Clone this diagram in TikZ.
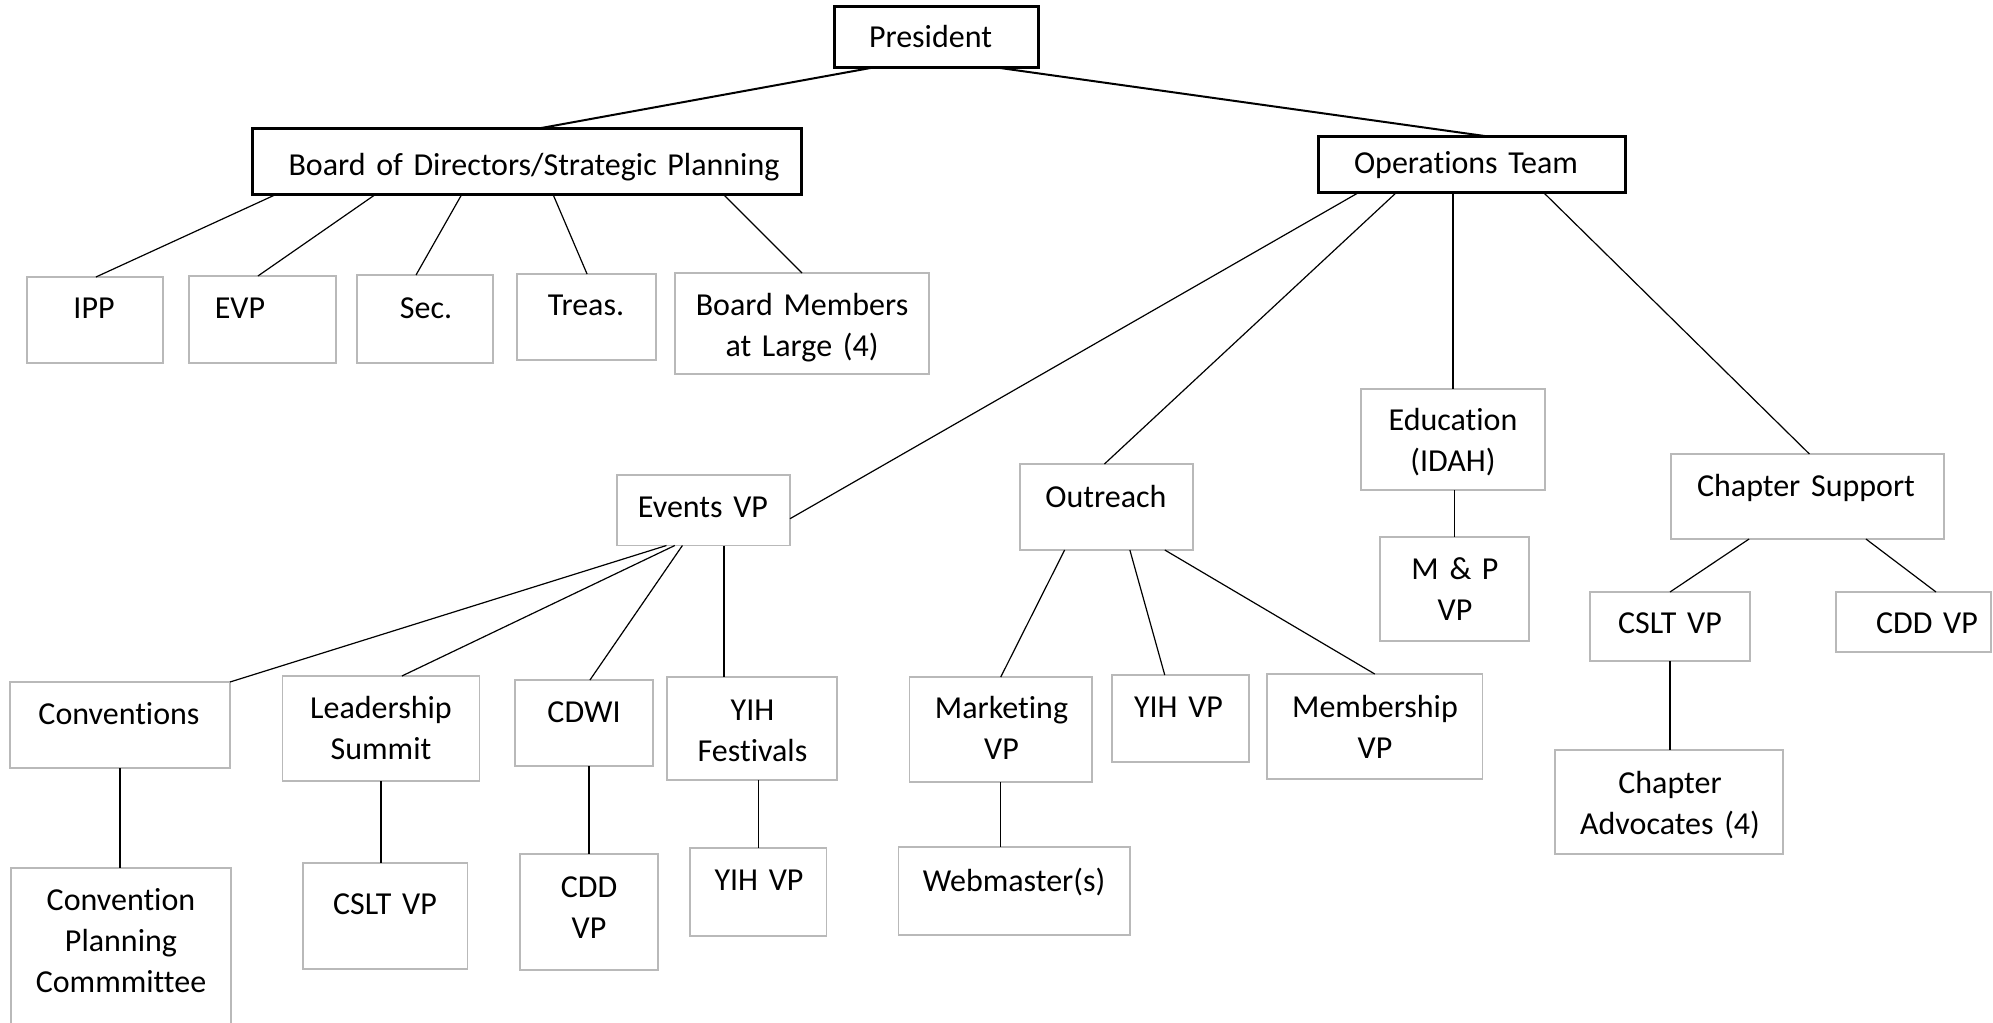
\documentclass[tikz,border=0pt]{standalone}
\usepackage{fontspec}
\setmainfont{Carlito}[Ligatures={NoCommon}]
\usetikzlibrary{calc}
\begin{document}
\begin{tikzpicture}[x=1pt,y=-1pt,
  gbox/.style={draw=gray!55, line width=1.6pt, rectangle, inner sep=0pt, outer sep=0pt},
  kbox/.style={draw=black, line width=3pt, rectangle, inner sep=0pt, outer sep=0pt},
  lbl/.style={text width=#1, align=center, anchor=base, inner sep=0pt, font=\fontsize{32}{41}\selectfont},
  link/.style={draw=black, line width=1.2pt},
  mainlink/.style={draw=black, line width=2pt}]
\clip (0,0) rectangle (1993,1022);
\fill[white] (0,0) rectangle (1993,1022);
% ---- boxes ----
\node[kbox, minimum width=204pt, minimum height=61pt] (pres) at (936,37.5) {};
\node[kbox, minimum width=549pt, minimum height=65pt] (board) at (526.5,161.5) {};
\node[kbox, minimum width=306.5pt, minimum height=56pt] (ops) at (1471.75,164) {};
\node[gbox, minimum width=136pt, minimum height=86pt] (ipp) at (95,320) {};
\node[gbox, minimum width=147pt, minimum height=87pt] (evp) at (262.5,319.5) {};
\node[gbox, minimum width=136pt, minimum height=88pt] (sec) at (425,319) {};
\node[gbox, minimum width=139pt, minimum height=86pt] (treas) at (586.5,317) {};
\node[gbox, minimum width=254pt, minimum height=101pt] (bml) at (802,323.5) {};
\node[gbox, minimum width=173pt, minimum height=70.5pt] (ev) at (703.5,510.25) {};
\node[gbox, minimum width=173pt, minimum height=86pt] (outr) at (1106.5,507) {};
\node[gbox, minimum width=184pt, minimum height=101pt] (edu) at (1453,439.5) {};
\node[gbox, minimum width=149pt, minimum height=104pt] (mp) at (1454.5,589) {};
\node[gbox, minimum width=273pt, minimum height=85pt] (chs) at (1807.5,496.5) {};
\node[gbox, minimum width=160pt, minimum height=69pt] (csltr) at (1670,626.5) {};
\node[gbox, minimum width=155pt, minimum height=60pt] (cddr) at (1913.5,622) {};
\node[gbox, minimum width=228pt, minimum height=104pt] (chadv) at (1669,802) {};
\node[gbox, minimum width=220pt, minimum height=86pt] (conv) at (120,725) {};
\node[gbox, minimum width=197pt, minimum height=105pt] (ls) at (381,728.5) {};
\node[gbox, minimum width=138pt, minimum height=86pt] (cdwi) at (584,723) {};
\node[gbox, minimum width=170pt, minimum height=103pt] (yihf) at (752,728.5) {};
\node[gbox, minimum width=220pt, minimum height=162pt] (cpc) at (121,949) {};
\node[gbox, minimum width=164.5pt, minimum height=106pt] (csltl) at (385.25,916) {};
\node[gbox, minimum width=138pt, minimum height=116pt] (cddl) at (589,912) {};
\node[gbox, minimum width=136.5pt, minimum height=88pt] (yihl) at (758.25,892) {};
\node[gbox, minimum width=182.5pt, minimum height=105pt] (mkt) at (1000.75,729.5) {};
\node[gbox, minimum width=137pt, minimum height=87pt] (yihm) at (1180.5,718.5) {};
\node[gbox, minimum width=215.5pt, minimum height=105pt] (memb) at (1374.75,726.5) {};
\node[gbox, minimum width=231.5pt, minimum height=88pt] (web) at (1014.25,891) {};
% ---- labels ----
\node[lbl=195pt] (presT) at (930.5,47.5) {President};
\node[lbl=540pt] (boardT) at (534,175.5) {Board of Directors/Strategic Planning};
\node[lbl=295pt] (opsT) at (1466,173.5) {Operations Team};
\node[lbl=125pt] (ippT) at (94,318.5) {IPP};
\node[lbl=120pt] (evpT) at (240,318.5) {EVP};
\node[lbl=125pt] (secT) at (426,318.5) {Sec.};
\node[lbl=128pt] (treasT) at (586,315.5) {Treas.};
\node[lbl=245pt] (bmlT) at (802,315.5) {Board Members\\at Large (4)};
\node[lbl=165pt] (evT) at (703,517) {Events VP};
\node[lbl=165pt] (outrT) at (1106,507) {Outreach};
\node[lbl=175pt] (eduT) at (1453,430.5) {Education\\(IDAH)};
\node[lbl=140pt] (mpT) at (1455,579.5) {M \& P\\VP};
\node[lbl=265pt] (chsT) at (1806,496.5) {Chapter Support};
\node[lbl=150pt] (csltrT) at (1670,633.5) {CSLT VP};
\node[lbl=120pt] (cddrT) at (1927,633.5) {CDD VP};
\node[lbl=220pt] (chadvT) at (1670,793) {Chapter\\Advocates (4)};
\node[lbl=210pt] (convT) at (119,724.5) {Conventions};
\node[lbl=190pt] (lsT) at (381,718.5) {Leadership\\Summit};
\node[lbl=130pt] (cdwiT) at (584,722) {CDWI};
\node[lbl=160pt] (yihfT) at (752.5,720) {YIH\\Festivals};
\node[lbl=210pt] (cpcT) at (121,910.5) {Convention\\Planning\\Commmittee};
\node[lbl=155pt] (csltlT) at (385,914.5) {CSLT VP};
\node[lbl=130pt] (cddlT) at (589,897) {CDD\\VP};
\node[lbl=130pt] (yihlT) at (759,890.5) {YIH VP};
\node[lbl=175pt] (mktT) at (1001.5,718.5) {Marketing\\VP};
\node[lbl=130pt] (yihmT) at (1178.5,717) {YIH VP};
\node[lbl=205pt] (membT) at (1375,717) {Membership\\VP};
\node[lbl=225pt] (webT) at (1014,891.5) {Webmaster(s)};
% ---- connectors ----
\draw[mainlink] ($(pres.south west)!0.179!(pres.south east)$) -- ($(board.north west)!0.517!(board.north east)$);
\draw[mainlink] ($(pres.south west)!0.814!(pres.south east)$) -- ($(ops.north west)!0.542!(ops.north east)$);
\draw[link] ($(board.south west)!0.0455!(board.south east)$) -- ($(ipp.north west)!0.507!(ipp.north east)$);
\draw[link] ($(board.south west)!0.226!(board.south east)$) -- ($(evp.north west)!0.469!(evp.north east)$);
\draw[link] ($(board.south west)!0.3825!(board.south east)$) -- ($(sec.north west)!0.434!(sec.north east)$);
\draw[link] ($(board.south west)!0.548!(board.south east)$) -- ($(treas.north west)!0.504!(treas.north east)$);
\draw[link] ($(board.south west)!0.858!(board.south east)$) -- (bml.north);
\draw[link] ($(ops.south west)!0.134!(ops.south east)$) -- ($(ev.north east)!0.62!(ev.south east)$);
\draw[link] ($(ops.south west)!0.256!(ops.south east)$) -- ($(outr.north west)!0.488!(outr.north east)$);
\draw[link] (edu.north |- ops.south) -- (edu.north);
\draw[link] ($(ops.south west)!0.7325!(ops.south east)$) -- ($(chs.north west)!0.507!(chs.north east)$);
\draw[link] ($(ev.south west)!0.286!(ev.south east)$) -- (conv.north east);
\draw[link] ($(ev.south west)!0.334!(ev.south east)$) -- ($(ls.north west)!0.606!(ls.north east)$);
\draw[link] ($(ev.south west)!0.378!(ev.south east)$) -- ($(cdwi.north west)!0.543!(cdwi.north east)$);
\coordinate (yihfTop) at ($(yihf.north west)!0.335!(yihf.north east)$);
\draw[link] (yihfTop |- ev.south) -- (yihfTop);
\draw[link] (conv.south) -- (conv.south |- cpc.north);
\draw[link] (ls.south) -- (ls.south |- csltl.north);
\draw[link] (cddl.north |- cdwi.south) -- (cddl.north);
\draw[link] (yihl.north |- yihf.south) -- (yihl.north);
\draw[link] ($(outr.south west)!0.258!(outr.south east)$) -- (mkt.north);
\draw[link] ($(outr.south west)!0.635!(outr.south east)$) -- ($(yihm.north west)!0.385!(yihm.north east)$);
\draw[link] ($(outr.south west)!0.837!(outr.south east)$) -- (memb.north);
\draw[link] (mkt.south) -- (mkt.south |- web.north);
\draw[link] (mp.north |- edu.south) -- (mp.north);
\draw[link] ($(chs.south west)!0.286!(chs.south east)$) -- (csltr.north);
\draw[link] ($(chs.south west)!0.714!(chs.south east)$) -- ($(cddr.north west)!0.645!(cddr.north east)$);
\draw[link] (csltr.south) -- (csltr.south |- chadv.north);
\end{tikzpicture}
\end{document}
